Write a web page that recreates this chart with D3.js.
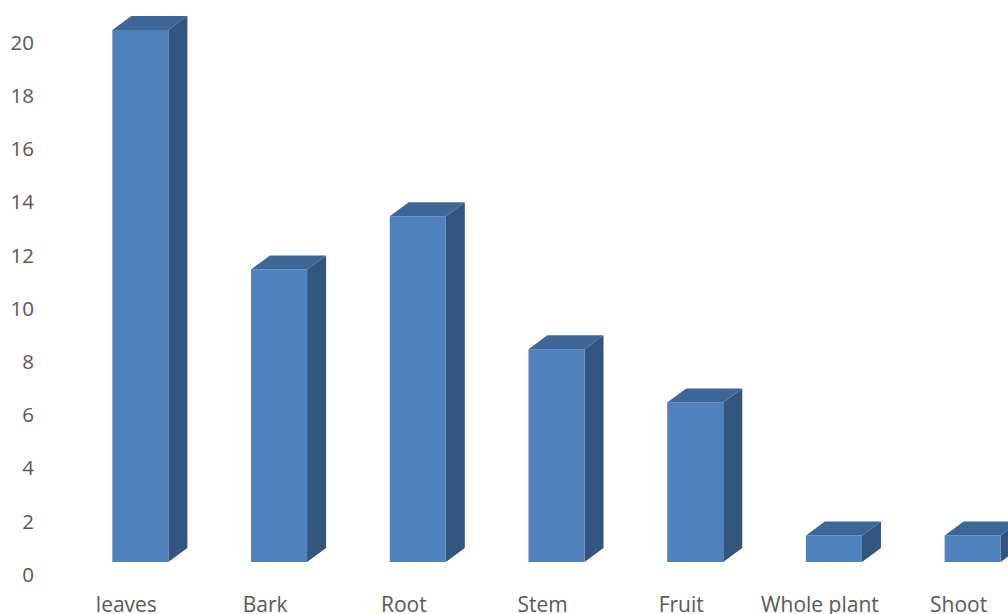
<!DOCTYPE html>
<html><head><meta charset="utf-8">
<script src="https://cdn.jsdelivr.net/npm/d3@7"></script>
<style>body{margin:0;background:#fff}svg{display:block}</style>
</head><body>
<svg id="c" width="1008" height="614"></svg>
<script>
const categories = ["leaves","Bark","Root","Stem","Fruit","Whole plant","Shoot"];
const values = [20,11,13,8,6,1,1];
const tickValues = [0,2,4,6,8,10,12,14,16,18,20];

const svg = d3.select("#c");
const x = d3.scaleBand().domain(categories).range([71, 1042]).paddingInner(0.596).paddingOuter(0.298);
const y = d3.scaleLinear().domain([0, 20]).range([574, 42]);
const dx = 19, dy = 14, lift = 12;
const font = "'Open Sans', 'Liberation Sans', sans-serif";

// y-axis labels
const yAxis = d3.axisLeft(y).tickValues(tickValues).tickSize(0).tickPadding(0);
const ga = svg.append("g").attr("transform","translate(34,0)").call(yAxis);
ga.select(".domain").remove();
ga.selectAll("text").attr("font-family",font).attr("font-size",20.5).attr("fill","#595959").attr("dy","0.36em");

// bars
const g = svg.append("g");
categories.forEach((c,i)=>{
  const x0 = x(c), w = x.bandwidth();
  const yb = y(0) - lift, yt = y(values[i]) - lift;
  g.append("path").attr("d",`M${x0+w},${yb} L${x0+w+dx},${yb-dy} L${x0+w+dx},${yt-dy} L${x0+w},${yt} Z`).attr("fill","#335681");
  g.append("path").attr("d",`M${x0},${yt} L${x0+dx},${yt-dy} L${x0+w+dx},${yt-dy} L${x0+w},${yt} Z`).attr("fill","#3d6797");
  g.append("rect").attr("x",x0).attr("y",yt).attr("width",w).attr("height",yb-yt).attr("fill","#4f81bd");
});

// x labels (centred on the floor front, slightly left of bar centres)
const xAxis = d3.axisBottom(x).tickSize(0).tickPadding(0);
const gx = svg.append("g").attr("transform","translate(-14,597)").call(xAxis);
gx.select(".domain").remove();
gx.selectAll("text").attr("font-family",font).attr("font-size",21).attr("fill","#595959").attr("dy","0.71em");
</script>
</body></html>
